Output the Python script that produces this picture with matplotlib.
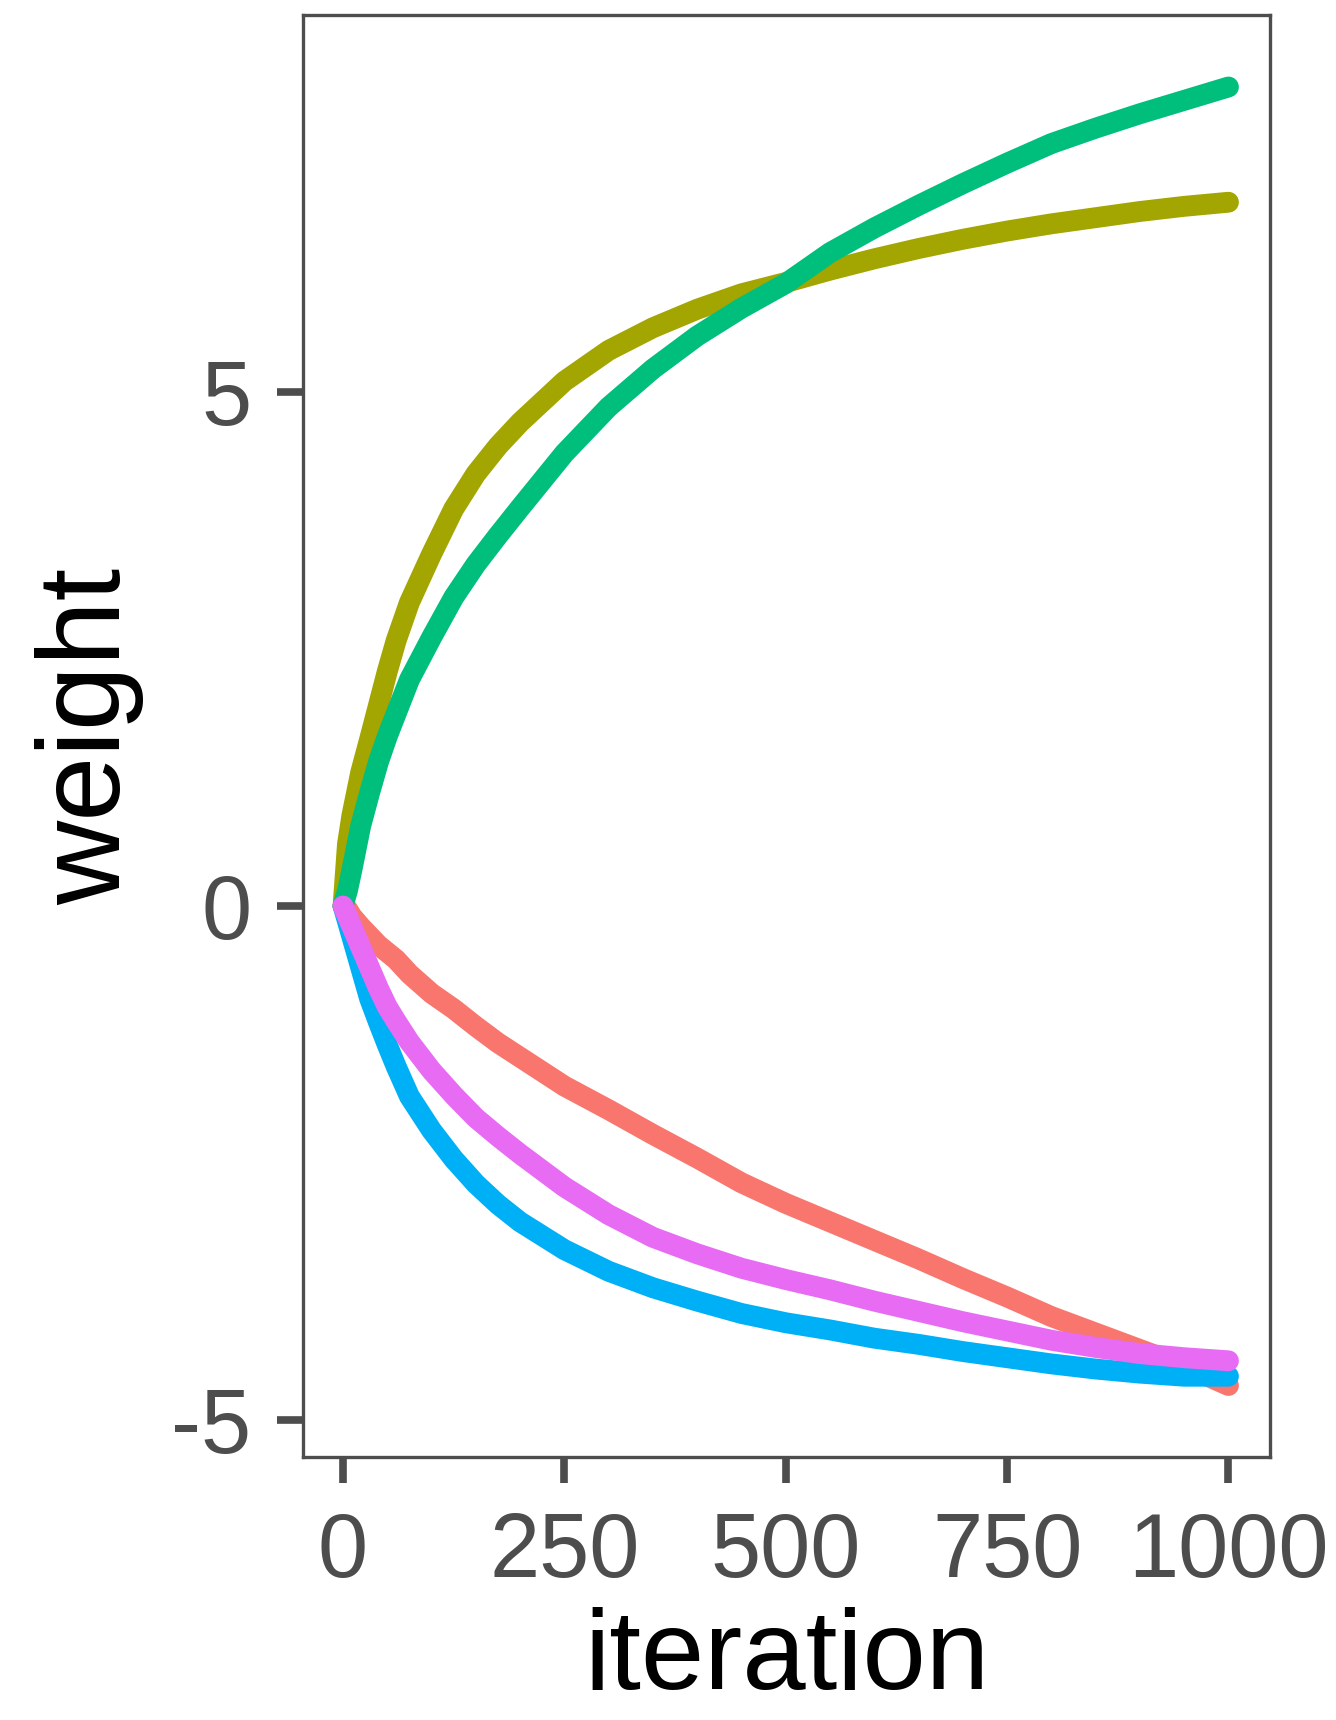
import numpy as np
import matplotlib
matplotlib.use("Agg")
import matplotlib.pyplot as plt

plt.rcParams['font.family'] = ['Liberation Sans', 'DejaVu Sans']
plt.rcParams['axes.unicode_minus'] = False

iteration = [0, 5, 10, 20, 30, 40, 50, 60, 75, 100, 125, 150, 175, 200, 250,
             300, 350, 400, 450, 500, 550, 600, 650, 700, 750, 800, 850, 900, 950, 1000]

w_red = [0, -0.03, -0.10, -0.20, -0.29, -0.38, -0.45, -0.52, -0.66, -0.85, -1.00, -1.17, -1.33, -1.47, -1.75,
         -1.98, -2.22, -2.45, -2.69, -2.89, -3.07, -3.25, -3.43, -3.62, -3.80, -3.99, -4.15, -4.31, -4.47, -4.66]
w_olive = [0, 0.60, 0.88, 1.30, 1.62, 1.95, 2.28, 2.58, 2.95, 3.42, 3.86, 4.20, 4.47, 4.70, 5.10,
           5.40, 5.62, 5.80, 5.95, 6.06, 6.18, 6.29, 6.39, 6.48, 6.56, 6.63, 6.69, 6.75, 6.80, 6.84]
w_green = [0, 0.15, 0.35, 0.78, 1.10, 1.40, 1.65, 1.87, 2.20, 2.61, 3.00, 3.32, 3.60, 3.87, 4.40,
           4.85, 5.22, 5.54, 5.81, 6.05, 6.35, 6.59, 6.81, 7.02, 7.22, 7.41, 7.56, 7.70, 7.83, 7.96]
w_blue = [0, -0.15, -0.30, -0.60, -0.90, -1.13, -1.35, -1.56, -1.85, -2.18, -2.46, -2.70, -2.90, -3.07, -3.34,
          -3.55, -3.71, -3.84, -3.96, -4.05, -4.12, -4.20, -4.26, -4.33, -4.39, -4.45, -4.50, -4.54, -4.57, -4.57]
w_pink = [0, -0.10, -0.20, -0.40, -0.60, -0.80, -0.98, -1.12, -1.32, -1.60, -1.84, -2.06, -2.24, -2.41, -2.73,
          -3.00, -3.22, -3.38, -3.52, -3.63, -3.73, -3.84, -3.94, -4.04, -4.13, -4.22, -4.29, -4.35, -4.39, -4.42]

series = [w_red, w_olive, w_green, w_blue, w_pink]
colors = ['#F8766D', '#A3A500', '#00BF7D', '#00B0F6', '#E76BF3']

x_ticks = [0, 250, 500, 750, 1000]
y_ticks = [-5, 0, 5]

fig = plt.figure(figsize=(13.36, 17.2), dpi=100)
ax = fig.add_axes([0.2268, 0.1529, 0.7238, 0.8384])

for w, c in zip(series, colors):
    ax.plot(iteration, w, color=c, lw=15, solid_capstyle='round', solid_joinstyle='round')

ax.set_xlim(-45.2, 1046.9)
ax.set_ylim(-5.355, 8.66)
ax.set_xticks(x_ticks)
ax.set_yticks(y_ticks)

for sp in ax.spines.values():
    sp.set_color('#4D4D4D')
    sp.set_linewidth(2.4)

ax.tick_params(axis='both', colors='#4D4D4D', width=5.5, length=19,
               labelsize=65, labelcolor='#4D4D4D')
ax.tick_params(axis='x', pad=20)
ax.tick_params(axis='y', pad=18)

ax.set_xlabel('iteration', fontsize=82, color='black', labelpad=8)
ax.set_ylabel('weight', fontsize=84, color='black', labelpad=20)

fig.savefig('out.png', dpi=100, facecolor='white')
